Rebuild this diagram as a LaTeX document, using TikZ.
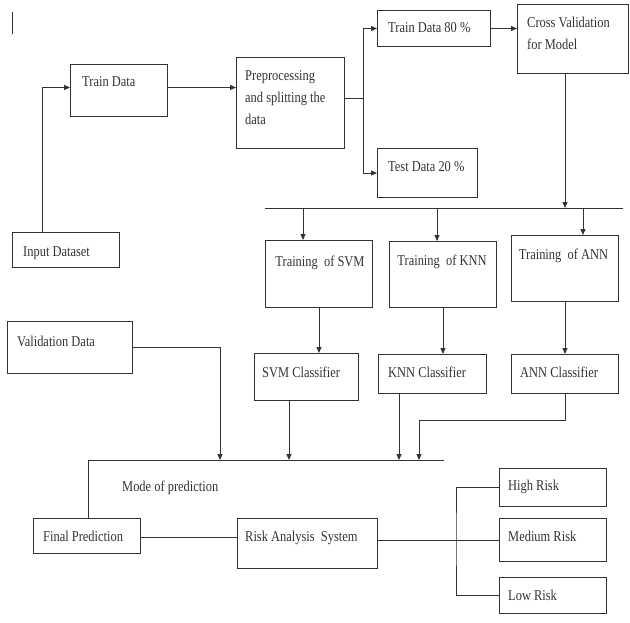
\documentclass[tikz,border=0pt]{standalone}
\usepackage{fontspec}
\setmainfont{Liberation Serif}[FakeStretch=0.83]
\usetikzlibrary{arrows.meta}
\definecolor{ink}{HTML}{333333}
\begin{document}
\begin{tikzpicture}[x=1pt,y=-1pt,
  box/.style={draw=ink, line width=1pt, inner sep=0pt, anchor=north west},
  txt/.style={inner sep=0pt, anchor=base west, text=ink, font=\fontsize{15}{22}\selectfont},
  ctxt/.style={txt, anchor=base},
  mtxt/.style={txt, text width=110pt, align=flush left},
  ln/.style={draw=ink, line width=1pt},
  arr/.style={ln, -{Triangle[length=6pt,width=5pt]}}]
\useasboundingbox (0,0) rectangle (630,622);
% cursor mark
\draw[ln] (12,12) -- (12,34);
% boxes
\node[box, minimum width=97pt,  minimum height=52pt] (train) at (70,64) {};
\node[box, minimum width=108pt, minimum height=91pt] (prep)  at (236,57) {};
\node[box, minimum width=113pt, minimum height=36pt] (t80)   at (377,10) {};
\node[box, minimum width=111pt, minimum height=69pt] (cv)    at (517,4) {};
\node[box, minimum width=100pt, minimum height=49pt] (t20)   at (377,148) {};
\node[box, minimum width=107pt, minimum height=35pt] (input) at (12,232) {};
\node[box, minimum width=107pt, minimum height=67pt] (tsvm)  at (265,240) {};
\node[box, minimum width=107pt, minimum height=66pt] (tknn)  at (389,241) {};
\node[box, minimum width=107pt, minimum height=66pt] (tann)  at (511,235) {};
\node[box, minimum width=125pt, minimum height=52pt] (val)   at (7,321) {};
\node[box, minimum width=104pt, minimum height=47pt] (csvm)  at (254,353) {};
\node[box, minimum width=108pt, minimum height=39pt] (cknn)  at (378,354) {};
\node[box, minimum width=107pt, minimum height=39pt] (cann)  at (511,354) {};
\node[box, minimum width=107pt, minimum height=35pt] (fp)    at (33,518) {};
\node[box, minimum width=140pt, minimum height=50pt] (ras)   at (237,518) {};
\node[box, minimum width=107pt, minimum height=38pt] (high)  at (499,468) {};
\node[box, minimum width=107pt, minimum height=43pt] (med)   at (499,518) {};
\node[box, minimum width=107pt, minimum height=36pt] (low)   at (499,577) {};
% texts
\node[txt] (trainT) at (82,86.5) {Train Data};
\node[mtxt] (prepT) at (245,80.5) {Preprocessing\\and splitting the\\data};
\node[txt] (t80T) at (388,32.5) {Train Data 80 \%};
\node[mtxt] (cvT) at (527,27.5) {Cross Validation\\for Model};
\node[txt] (t20T) at (388,171.5) {Test Data 20 \%};
\node[txt] (inputT) at (23,256.5) {Input Dataset};
\node[txt] (valT) at (17,346.5) {Validation Data};
\node[ctxt] (tsvmT) at (320,266.5) {Training\ \ of SVM};
\node[ctxt] (tknnT) at (442,265.5) {Training\ \ of KNN};
\node[ctxt] (tannT) at (563.5,259.5) {Training\ \ of ANN};
\node[txt] (csvmT) at (262,377.5) {SVM Classifier};
\node[txt] (cknnT) at (388,377.5) {KNN Classifier};
\node[txt] (cannT) at (520,377.5) {ANN Classifier};
\node[txt] (modeT) at (122,491.5) {Mode of prediction};
\node[txt] (fpT) at (43,541.5) {Final Prediction};
\node[txt] (rasT) at (245,541.5) {Risk Analysis\ \ System};
\node[txt] (highT) at (508,490.5) {High Risk};
\node[txt] (medT) at (508,541.5) {Medium Risk};
\node[txt] (lowT) at (508,600.5) {Low Risk};
% coordinates
\coordinate (sp) at (363,98);
\coordinate (busAL) at (265,208);
\coordinate (busAR) at (623,208);
\coordinate (b1) at (303,208);
\coordinate (b2) at (437,208);
\coordinate (b3) at (583,208);
\coordinate (busBL) at (88,460);
\coordinate (busBR) at (444,460);
\coordinate (m1) at (220,460);
\coordinate (m2) at (289,460);
\coordinate (m3) at (399,460);
\coordinate (m4) at (419,460);
\coordinate (k) at (419,420);
\coordinate (vx) at (456,537);
% connectors
\draw[arr] ([xshift=30pt]input.north west) |- ([yshift=3pt]train.west);
\draw[arr] ([yshift=3pt]train.east) -- ([yshift=3pt]train.east -| prep.west);
\draw[ln] (sp -| prep.east) -- (sp);
\draw[arr] (sp) |- (t80.west);
\draw[arr] (sp) |- (t20.west);
\draw[arr] (t80.east) -- (t80.east -| cv.west);
\draw[ln] (busAL) -- (busAR);
\draw[arr] (cv.south -| tann) -- (tann |- busAL);
\draw[arr] (b1) -- (b1 |- tsvm.north);
\draw[arr] (b2) -- (b2 |- tknn.north);
\draw[arr] (b3) -- (b3 |- tann.north);
\draw[arr] (tsvm.south) -- (tsvm.south |- csvm.north);
\draw[arr] (tknn.south) -- (tknn.south |- cknn.north);
\draw[arr] (tann.south) -- (tann.south |- cann.north);
\draw[ln] (busBL) -- (busBR);
\draw[arr] (val.east) -| (m1);
\draw[arr] (csvm.south -| m2) -- (m2);
\draw[arr] (cknn.south -| m3) -- (m3);
\draw[arr] (cann.south) |- (k) -- (m4);
\draw[ln] (busBL) -- (busBL |- fp.north);
\draw[ln] ([yshift=-1.5pt]fp.east) -- ([yshift=-1.5pt]fp.east -| ras.west);
\draw[ln] (med.west -| ras.east) -- (med.west);
\draw[ln] (high.west) -| (vx) |- (low.west);
\end{tikzpicture}
\end{document}
